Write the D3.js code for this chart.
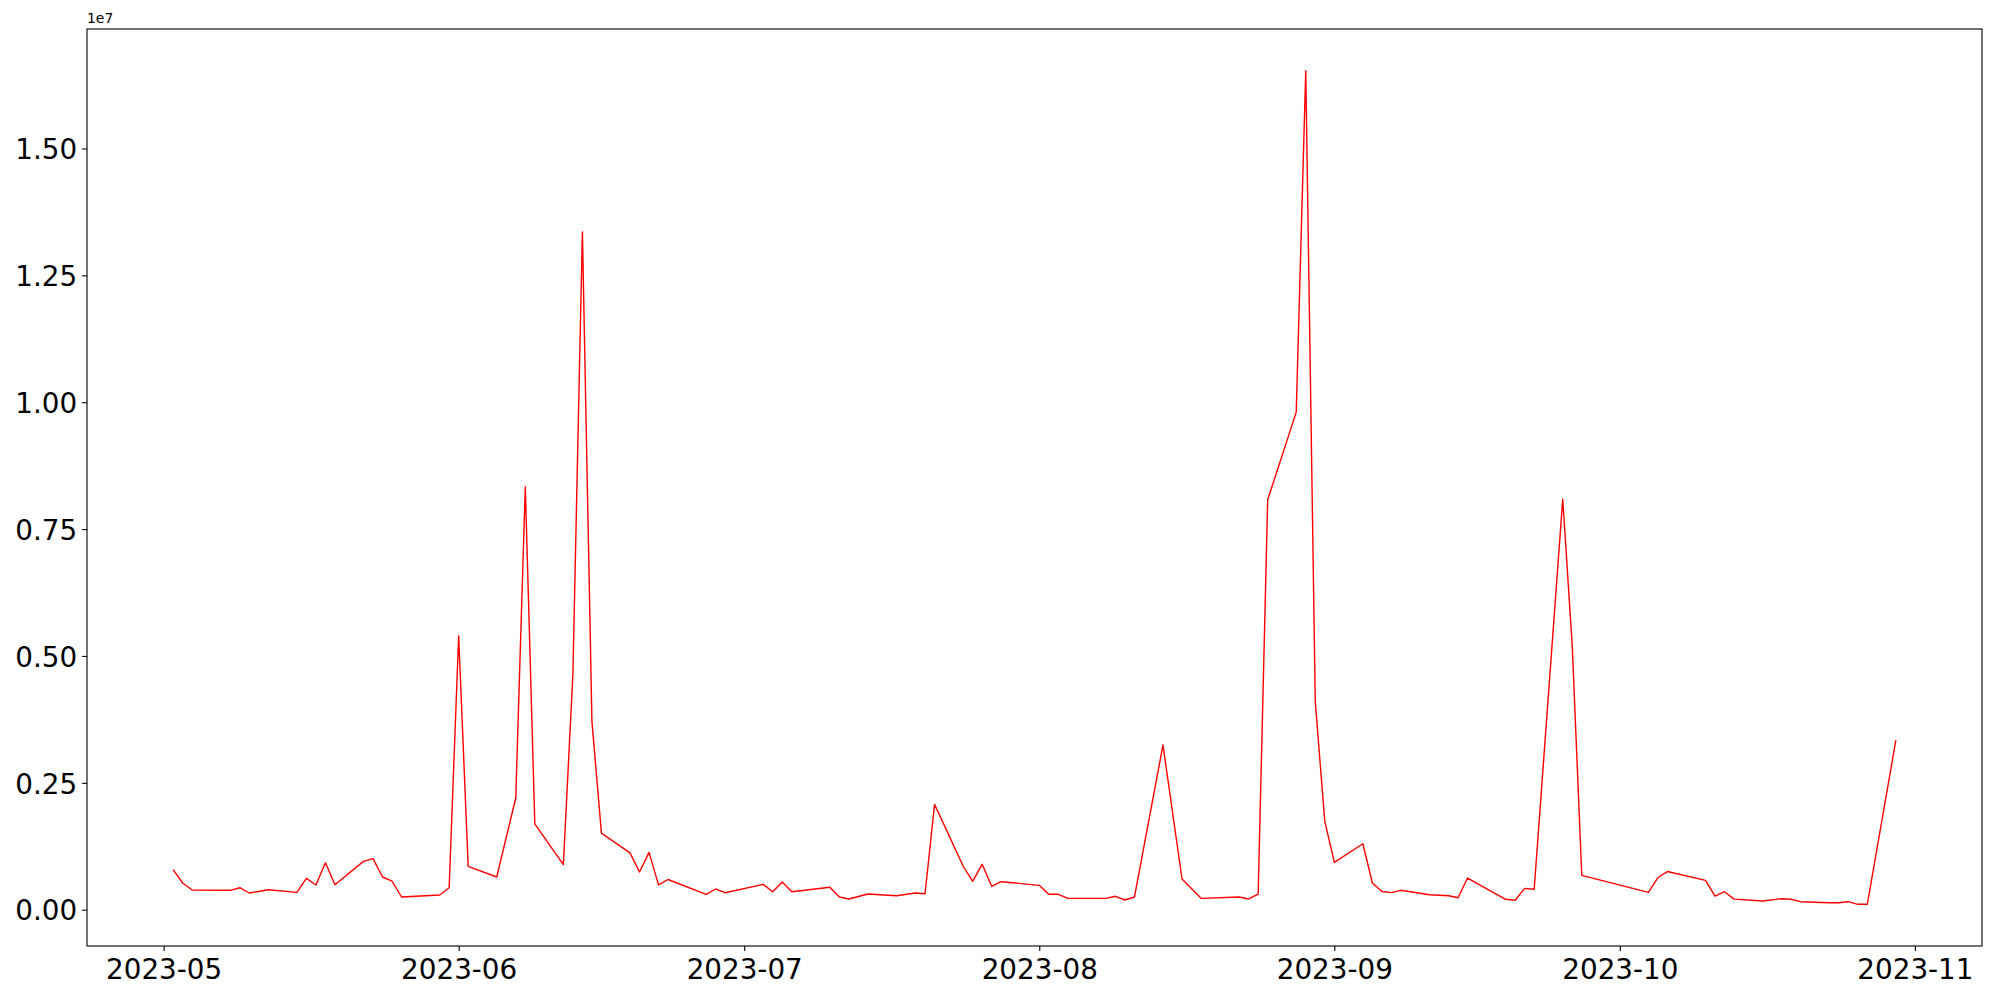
<!DOCTYPE html>
<html>
<head>
<meta charset="utf-8">
<script src="https://cdn.jsdelivr.net/npm/d3@7"></script>
<style>
  body { margin: 0; background: #fff; }
  svg { display: block; font-family: "DejaVu Sans", sans-serif; }
</style>
</head>
<body>
<div id="vis"></div>
<script>
// dates and values
const dates = [
  "2023-05-02","2023-05-03","2023-05-04","2023-05-08","2023-05-09","2023-05-10","2023-05-12",
  "2023-05-15","2023-05-16","2023-05-17","2023-05-18","2023-05-19","2023-05-22","2023-05-23",
  "2023-05-24","2023-05-25","2023-05-26","2023-05-30","2023-05-31","2023-06-01","2023-06-02",
  "2023-06-05","2023-06-07","2023-06-08","2023-06-09","2023-06-12","2023-06-13","2023-06-14",
  "2023-06-15","2023-06-16","2023-06-19","2023-06-20","2023-06-21","2023-06-22","2023-06-23",
  "2023-06-27","2023-06-28","2023-06-29","2023-07-03","2023-07-04","2023-07-05","2023-07-06",
  "2023-07-10","2023-07-11","2023-07-12","2023-07-14","2023-07-17","2023-07-19","2023-07-20",
  "2023-07-21","2023-07-24","2023-07-25","2023-07-26","2023-07-27","2023-07-28","2023-08-01",
  "2023-08-02","2023-08-03","2023-08-04","2023-08-08","2023-08-09","2023-08-10","2023-08-11",
  "2023-08-14","2023-08-16","2023-08-18","2023-08-22","2023-08-23","2023-08-24","2023-08-25",
  "2023-08-28","2023-08-29","2023-08-30","2023-08-31","2023-09-01","2023-09-04","2023-09-05",
  "2023-09-06","2023-09-07","2023-09-08","2023-09-11","2023-09-13","2023-09-14","2023-09-15",
  "2023-09-19","2023-09-20","2023-09-21","2023-09-22","2023-09-25","2023-09-26","2023-09-27",
  "2023-10-04","2023-10-05","2023-10-06","2023-10-10","2023-10-11","2023-10-12","2023-10-13",
  "2023-10-16","2023-10-18","2023-10-19","2023-10-20","2023-10-23","2023-10-24","2023-10-25",
  "2023-10-26","2023-10-27","2023-10-30"
]
const values = [
  788000, 526000, 388000, 382000, 433000, 329000, 394000,
  342000, 618000, 487000, 926000, 493000, 953000, 1005000,
  644000, 565000, 250000, 290000, 433000, 5397000, 855000,
  644000, 2206000, 8334000, 1690000, 890000, 4633000, 13356000,
  3715000, 1510000, 1120000, 744000, 1130000, 490000, 595000,
  303000, 408000, 335000, 500000, 355000, 546000, 355000,
  441000, 250000, 211000, 309000, 276000, 329000, 315000,
  2076000, 861000, 559000, 894000, 461000, 552000, 480000,
  303000, 303000, 224000, 224000, 264000, 191000, 250000,
  3244000, 605000, 224000, 250000, 211000, 309000, 8078000,
  9805000, 16533000, 4095000, 1740000, 932000, 1300000, 526000,
  358000, 336000, 382000, 295000, 276000, 236000, 624000,
  205000, 185000, 421000, 402000, 8089000, 5200000, 677000,
  340000, 634000, 752000, 579000, 267000, 355000, 208000,
  171000, 217000, 205000, 158000, 138000, 138000, 158000,
  106000, 106000, 3340000
]
const yTicks = [0, 2500000, 5000000, 7500000, 10000000, 12500000, 15000000]

const W = 2000, H = 1000
const margin = {left: 87, top: 29, right: 18, bottom: 54}
const parse = d3.utcParse("%Y-%m-%d")

let dataset = dates.map((d, i) => ({date: parse(d), value: values[i]}))

// matplotlib style 5% padding on both axes
let xExt = d3.extent(dataset, d => d.date)
let xPad = (xExt[1] - xExt[0]) * 0.05
let xScale = d3.scaleUtc()
    .domain([new Date(+xExt[0] - xPad), new Date(+xExt[1] + xPad)])
    .range([margin.left, W - margin.right])

let yExt = d3.extent(dataset, d => d.value)
let yPad = (yExt[1] - yExt[0]) * 0.05
let yScale = d3.scaleLinear()
    .domain([yExt[0] - yPad, yExt[1] + yPad])
    .range([H - margin.bottom, margin.top])

let svg = d3.select("#vis").append("svg")
    .attr("width", W)
    .attr("height", H)

svg.append("rect").attr("width", W).attr("height", H).attr("fill", "#fff")

// x axis
let xAxis = d3.axisBottom(xScale)
    .ticks(d3.utcMonth.every(1))
    .tickFormat(d3.utcFormat("%Y-%m"))
    .tickSizeInner(4.9)
    .tickSizeOuter(0)
    .tickPadding(8.4)

svg.append("g")
    .attr("transform", `translate(0,${H - margin.bottom})`)
    .call(xAxis)
    .call(g => g.select(".domain").remove())
    .call(g => g.selectAll(".tick line").attr("stroke", "#000").attr("stroke-width", 1.1))
    .call(g => g.selectAll(".tick text")
        .attr("fill", "#000")
        .attr("font-family", "DejaVu Sans")
        .attr("font-size", "27.8px"))

// y axis
let yAxis = d3.axisLeft(yScale)
    .tickValues(yTicks)
    .tickFormat(d => (d / 1e7).toFixed(2))
    .tickSizeInner(4.9)
    .tickSizeOuter(0)
    .tickPadding(4.9)

svg.append("g")
    .attr("transform", `translate(${margin.left},0)`)
    .call(yAxis)
    .call(g => g.select(".domain").remove())
    .call(g => g.selectAll(".tick line").attr("stroke", "#000").attr("stroke-width", 1.1))
    .call(g => g.selectAll(".tick text")
        .attr("fill", "#000")
        .attr("dy", "0.37em")
        .attr("font-family", "DejaVu Sans")
        .attr("font-size", "27.8px"))

// offset text
svg.append("text")
    .attr("x", margin.left)
    .attr("y", margin.top - 6)
    .attr("font-size", "13.9px")
    .attr("fill", "#000")
    .text("1e7")

// the line
let line = d3.line()
    .x(d => xScale(d.date))
    .y(d => yScale(d.value))

svg.append("path")
    .datum(dataset)
    .attr("fill", "none")
    .attr("stroke", "#ff0000")
    .attr("stroke-width", 1.4)
    .attr("stroke-linejoin", "round")
    .attr("d", line)

// frame
svg.append("rect")
    .attr("x", margin.left)
    .attr("y", margin.top)
    .attr("width", W - margin.left - margin.right)
    .attr("height", H - margin.top - margin.bottom)
    .attr("fill", "none")
    .attr("stroke", "#000")
    .attr("stroke-width", 1.1)
</script>
</body>
</html>
